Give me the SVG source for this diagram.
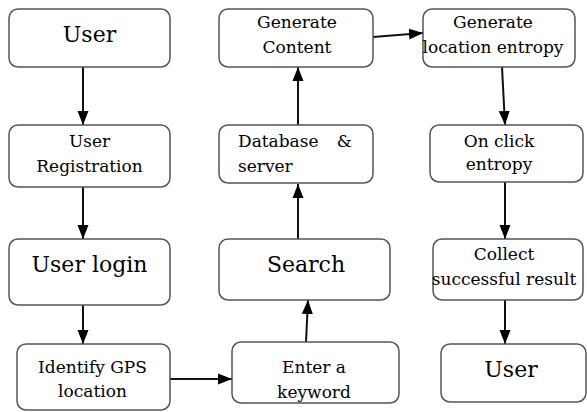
<svg xmlns="http://www.w3.org/2000/svg" width="587" height="412" viewBox="0 0 587 412">
<style>
.box{fill:#fff;stroke:#555;stroke-width:1.5}
.t{font-family:'DejaVu Serif',serif;fill:#000;text-anchor:middle}
.big{font-size:22px}
.sm{font-size:17px}
.c{stroke:#111;stroke-width:2;fill:none;marker-end:url(#ah)}
</style>
<defs>
<marker id="ah" markerUnits="userSpaceOnUse" markerWidth="15" markerHeight="12" refX="14" refY="6" orient="auto">
<path d="M0,0.5 L14,6 L0,11.5 z" fill="#000"/>
</marker>
</defs>
<rect width="587" height="412" fill="#fff"/>
<g id="connectors">
<line class="c" x1="83" y1="67" x2="83" y2="125"/>
<line class="c" x1="83" y1="187" x2="83" y2="239"/>
<line class="c" x1="83" y1="305" x2="83" y2="344"/>
<line class="c" x1="170" y1="379" x2="232" y2="379"/>
<line class="c" x1="306" y1="342" x2="308" y2="300"/>
<line class="c" x1="298" y1="239" x2="298" y2="184"/>
<line class="c" x1="298" y1="125" x2="298" y2="67"/>
<line class="c" x1="373" y1="37" x2="423" y2="33"/>
<line class="c" x1="502" y1="67" x2="505" y2="125"/>
<line class="c" x1="505" y1="182" x2="505" y2="239"/>
<line class="c" x1="505" y1="300" x2="505" y2="344"/>
</g>
<g id="user1">
<rect class="box" x="9" y="9" width="161" height="58" rx="9"/>
<text class="t big" x="89.5" y="42">User</text>
</g>
<g id="registration">
<rect class="box" x="9" y="125" width="161" height="62" rx="9"/>
<text class="t sm" x="89.5" y="147">User</text>
<text class="t sm" x="89.5" y="172">Registration</text>
</g>
<g id="login">
<rect class="box" x="9" y="239" width="161" height="66" rx="9"/>
<text class="t big" x="89.5" y="272">User login</text>
</g>
<g id="gps">
<rect class="box" x="17" y="344" width="153" height="66" rx="9"/>
<text class="t sm" x="92.5" y="373">Identify GPS</text>
<text class="t sm" x="92.5" y="397">location</text>
</g>
<g id="keyword">
<rect class="box" x="232" y="342" width="167" height="61" rx="9"/>
<text class="t sm" x="314" y="373">Enter a</text>
<text class="t sm" x="314" y="398">keyword</text>
</g>
<g id="search">
<rect class="box" x="219" y="239" width="171" height="61" rx="9"/>
<text class="t big" x="306" y="272">Search</text>
</g>
<g id="database">
<rect class="box" x="219" y="125" width="154" height="58" rx="9"/>
<text class="t sm" x="238" y="147" style="text-anchor:start">Database</text>
<text class="t sm" x="352" y="147" style="text-anchor:end">&amp;</text>
<text class="t sm" x="238" y="172" style="text-anchor:start">server</text>
</g>
<g id="content">
<rect class="box" x="219" y="9" width="154" height="58" rx="9"/>
<text class="t sm" x="297" y="28">Generate</text>
<text class="t sm" x="297" y="53">Content</text>
</g>
<g id="entropy">
<rect class="box" x="423" y="9" width="152" height="58" rx="9"/>
<text class="t sm" x="493" y="28">Generate</text>
<text class="t sm" x="493" y="53">location entropy</text>
</g>
<g id="onclick">
<rect class="box" x="430" y="125" width="153" height="57" rx="9"/>
<text class="t sm" x="499" y="147">On click</text>
<text class="t sm" x="499" y="170">entropy</text>
</g>
<g id="collect">
<rect class="box" x="433" y="239" width="150" height="61" rx="9"/>
<text class="t sm" x="504" y="260">Collect</text>
<text class="t sm" x="504" y="285">successful result</text>
</g>
<g id="user2">
<rect class="box" x="441" y="344" width="145" height="58" rx="9"/>
<text class="t big" x="511" y="377">User</text>
</g>
</svg>
